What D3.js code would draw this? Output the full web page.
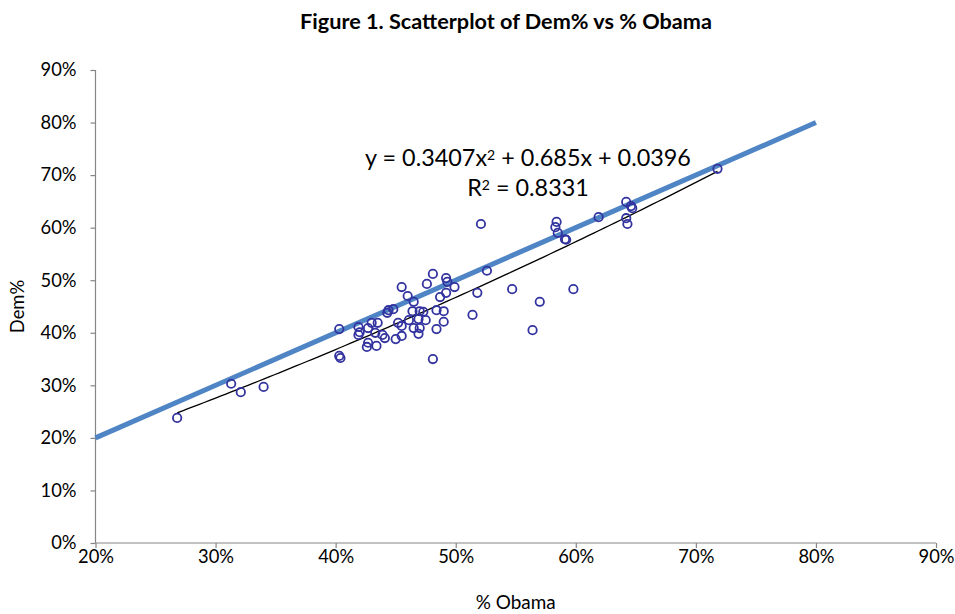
<!DOCTYPE html>
<html>
<head>
<meta charset="utf-8">
<script src="https://cdn.jsdelivr.net/npm/d3@7/dist/d3.min.js"></script>
<style>
  html, body { margin: 0; padding: 0; background: #fff; }
  svg { display: block; }
  text { font-family: Lato, "Open Sans", sans-serif; fill: #000; }
</style>
</head>
<body>
<svg id="chart" width="955" height="614"></svg>
<script>
// ---- Data ----
const obamaPct = [
  0.268, 0.313, 0.321, 0.340, 0.403, 0.403, 0.404, 0.419, 0.420, 0.419,
  0.427, 0.430, 0.435, 0.433, 0.439, 0.441, 0.427, 0.426, 0.434, 0.444,
  0.448, 0.443, 0.450, 0.452, 0.455, 0.455, 0.461, 0.469, 0.475, 0.465,
  0.470, 0.469, 0.484, 0.490, 0.464, 0.470, 0.473, 0.484, 0.490, 0.514,
  0.465, 0.460, 0.455, 0.476, 0.481, 0.492, 0.493, 0.499, 0.492, 0.487,
  0.518, 0.547, 0.570, 0.564, 0.481, 0.598, 0.526, 0.521, 0.584, 0.583,
  0.585, 0.591, 0.592, 0.619, 0.642, 0.646, 0.647, 0.642, 0.643, 0.718
];
const demPct = [
  0.238, 0.303, 0.287, 0.297, 0.407, 0.356, 0.352, 0.411, 0.401, 0.396,
  0.409, 0.419, 0.419, 0.400, 0.396, 0.390, 0.381, 0.373, 0.375, 0.443,
  0.445, 0.438, 0.388, 0.419, 0.413, 0.394, 0.424, 0.426, 0.424, 0.409,
  0.409, 0.398, 0.407, 0.421, 0.441, 0.441, 0.440, 0.443, 0.441, 0.434,
  0.459, 0.470, 0.487, 0.493, 0.512, 0.504, 0.497, 0.487, 0.476, 0.468,
  0.476, 0.483, 0.459, 0.405, 0.350, 0.483, 0.518, 0.607, 0.611, 0.601,
  0.590, 0.578, 0.577, 0.620, 0.649, 0.641, 0.637, 0.618, 0.607, 0.712
];
const xTicks = [0.2, 0.3, 0.4, 0.5, 0.6, 0.7, 0.8, 0.9];
const yTicks = [0, 0.1, 0.2, 0.3, 0.4, 0.5, 0.6, 0.7, 0.8, 0.9];
const refLine = [[0.2, 0.2], [0.8, 0.8]];          // y = x reference line
const polyCoef = [0.3407, 0.685, 0.0396];            // trendline a,b,c
const eqLabel = ["y = 0.3407x", "2", " + 0.685x + 0.0396"];
const r2Label = ["R", "2", " = 0.8331"];
const titleText = "Figure 1. Scatterplot of Dem% vs % Obama";
const xTitle = "% Obama";
const yTitle = "Dem%";

// ---- Layout ----
const svg = d3.select("#chart");
const m = { left: 95.5, right: 936, top: 70, bottom: 543 };
const x = d3.scaleLinear().domain([0.2, 0.9]).range([m.left, m.right]);
const y = d3.scaleLinear().domain([0, 0.9]).range([m.bottom, m.top]);
const pct = d3.format(".0%");
const axisColor = "#868686";

// scale a text's font-size so its rendered width matches a target width
function fitWidth(sel, target) {
  const node = sel.node();
  const fs = parseFloat(sel.style("font-size"));
  const w = node.getComputedTextLength();
  if (w > 0) sel.style("font-size", (fs * target / w).toFixed(2) + "px");
  return parseFloat(sel.style("font-size"));
}

// Title
const title = svg.append("text")
  .attr("x", 506).attr("y", 29)
  .attr("text-anchor", "middle")
  .style("font-size", "20px").style("font-weight", "bold")
  .text(titleText);
fitWidth(title, 412);

// measure tick font size from "90%" target width
const probe = svg.append("text").style("font-size", "16px").text("90%");
const tickFs = fitWidth(probe, 36);
probe.remove();

// Axes
const xAxis = svg.append("g").attr("transform", `translate(0,${m.bottom})`)
  .call(d3.axisBottom(x).tickValues(xTicks).tickFormat(pct).tickSize(5).tickPadding(2));
const yAxis = svg.append("g").attr("transform", `translate(${m.left},0)`)
  .call(d3.axisLeft(y).tickValues(yTicks).tickFormat(pct).tickSize(5).tickPadding(14));
[xAxis, yAxis].forEach(g => {
  g.select(".domain").attr("stroke", axisColor).attr("stroke-width", 1.2);
  g.selectAll(".tick line").attr("stroke", axisColor).attr("stroke-width", 1.2);
  g.selectAll(".tick text").style("font-size", tickFs + "px")
    .style("font-family", "Lato, 'Open Sans', sans-serif").attr("fill", "#000");
});
xAxis.select(".domain").attr("d", `M${m.left},0H${m.right}`);
yAxis.select(".domain").attr("d", `M0,${m.top}V${m.bottom}`);

// Axis titles
const xt = svg.append("text")
  .attr("x", (m.left + m.right) / 2).attr("y", 609)
  .attr("text-anchor", "middle").style("font-size", "16px")
  .text(xTitle);
fitWidth(xt, 80);
svg.append("text")
  .attr("transform", `translate(24,${(m.top + m.bottom) / 2}) rotate(-90)`)
  .attr("text-anchor", "middle").style("font-size", tickFs + "px")
  .text(yTitle);

// Reference line y = x
svg.append("line")
  .attr("x1", x(refLine[0][0])).attr("y1", y(refLine[0][1]))
  .attr("x2", x(refLine[1][0])).attr("y2", y(refLine[1][1]))
  .attr("stroke", "#4f85c4").attr("stroke-width", 5);

// Polynomial trendline over data range
const xmin = d3.min(obamaPct), xmax = d3.max(obamaPct);
const poly = v => polyCoef[0] * v * v + polyCoef[1] * v + polyCoef[2];
const curvePts = d3.range(0, 101).map(i => {
  const v = xmin + (xmax - xmin) * i / 100;
  return [v, poly(v)];
});
svg.append("path")
  .datum(curvePts)
  .attr("d", d3.line().x(d => x(d[0])).y(d => y(d[1])))
  .attr("fill", "none").attr("stroke", "#000").attr("stroke-width", 1.3);

// Points
svg.append("g").selectAll("circle")
  .data(obamaPct.map((v, i) => [v, demPct[i]]))
  .join("circle")
  .attr("cx", d => x(d[0])).attr("cy", d => y(d[1]))
  .attr("r", 4.2)
  .attr("fill", "none").attr("stroke", "#3333a0").attr("stroke-width", 1.8);

// Equation labels
function supText(parts, cx, cy) {
  const t = svg.append("text").attr("x", cx).attr("y", cy)
    .attr("text-anchor", "middle").style("font-size", "22px");
  t.append("tspan").text(parts[0]);
  t.append("tspan").attr("dy", "-0.4em").style("font-size", "0.6em").text(parts[1]);
  t.append("tspan").attr("dy", "0.24em").text(parts[2]);
  return t;
}
const eq = supText(eqLabel, 528, 166);
const eqFs = fitWidth(eq, 326);
const r2 = supText(r2Label, 528, 196);
r2.style("font-size", eqFs + "px");
</script>
</body>
</html>
